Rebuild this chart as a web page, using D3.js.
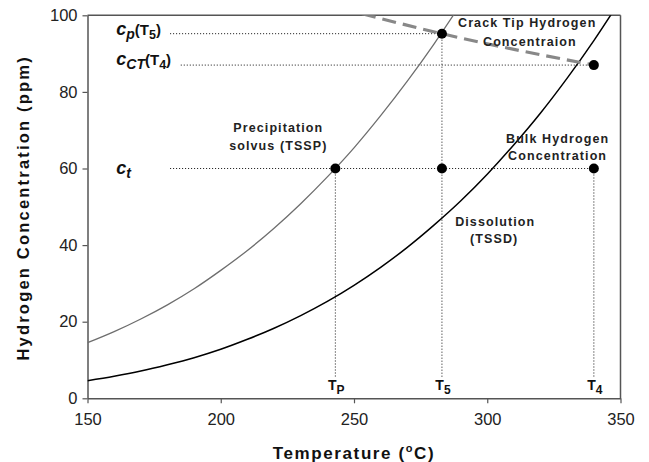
<!DOCTYPE html>
<html>
<head>
<meta charset="utf-8">
<script src="https://cdn.jsdelivr.net/npm/d3@7"></script>
<style>
  body { margin: 0; background: #fff; }
  svg { display: block; font-family: "Liberation Sans", Arial, sans-serif; }
</style>
</head>
<body>
<svg id="chart" width="649" height="462"></svg>
<script>
// solvus curves (ppm vs degC)
const tsspTemp = [150, 160, 170, 180, 190, 200, 210, 220, 230, 240, 250, 260, 270, 280, 290];
const tsspConc = [14.5, 17.4, 20.7, 24.4, 28.6, 33.4, 38.6, 44.4, 50.8, 57.8, 65.4, 73.8, 82.8, 92.5, 102.9];

const tssdTemp = [150, 160, 170, 180, 190, 200, 210, 220, 230, 240, 250, 260, 270, 280, 290, 300, 310, 320, 330, 340, 350];
const tssdConc = [4.6, 5.75, 7.1, 8.75, 10.6, 12.8, 15.4, 18.3, 21.6, 25.3, 29.5, 34.2, 39.4, 45.2, 51.5, 58.5, 66.2, 74.5, 83.6, 93.4, 104];

// crack tip concentration (dashed)
const crackTemp = [253, 283, 340];
const crackConc = [100.4, 95.2, 87];

// marked points
const pointTemp = [243, 283, 340, 283, 340];
const pointConc = [60, 60, 60, 95.2, 87];

// guide lines: [t1, c1, t2, c2]
const guides = [
  [181, 95.2, 283, 95.2],
  [185, 87, 340, 87],
  [181, 60, 340, 60],
  [243, 60, 243, 5.5],
  [283, 95.2, 283, 5.5],
  [340, 60, 340, 5.5]
];

const xTicks = [150, 200, 250, 300, 350];
const yTicks = [0, 20, 40, 60, 80, 100];

const svg = d3.select('#chart');
const W = 649, H = 462;
const margin = { top: 15.3, right: 28.5, bottom: 63.7, left: 87.5 };

const x = d3.scaleLinear().domain([150, 350]).range([margin.left, W - margin.right]);
const y = d3.scaleLinear().domain([0, 100]).range([H - margin.bottom, margin.top]);

svg.append('defs').append('clipPath').attr('id', 'plot')
  .append('rect')
  .attr('x', x(150)).attr('y', y(100))
  .attr('width', x(350) - x(150)).attr('height', y(0) - y(100));

// axes
const xAxis = svg.append('g')
  .attr('transform', `translate(0,${y(0)})`)
  .call(d3.axisBottom(x).tickValues(xTicks).tickSize(5).tickSizeOuter(0).tickPadding(10));
const yAxis = svg.append('g')
  .attr('transform', `translate(${x(150)},0)`)
  .call(d3.axisLeft(y).tickValues(yTicks).tickSize(5).tickSizeOuter(0).tickPadding(5));

[xAxis, yAxis].forEach(a => {
  a.select('.domain').attr('stroke', '#555').attr('stroke-width', 1.5);
  a.selectAll('.tick line').attr('stroke', '#555').attr('stroke-width', 1.2);
  a.selectAll('.tick text')
    .attr('fill', '#222')
    .style('font-size', '16.5px')
    .style('font-family', '"Liberation Sans", Arial, sans-serif');
});

// frame top / right
svg.append('line')
  .attr('x1', x(150)).attr('x2', x(350)).attr('y1', y(100)).attr('y2', y(100))
  .attr('stroke', '#555').attr('stroke-width', 1.5);
svg.append('line')
  .attr('x1', x(350)).attr('x2', x(350)).attr('y1', y(100)).attr('y2', y(0))
  .attr('stroke', '#555').attr('stroke-width', 1.5);

// axis titles
const xt = svg.append('text')
  .attr('x', x(250)).attr('y', 459)
  .attr('text-anchor', 'middle')
  .style('font-size', '17px').style('font-weight', 'bold')
  .style('letter-spacing', '1.6px').attr('fill', '#111');
xt.append('tspan').text('Temperature (');
xt.append('tspan').text('o').style('font-size', '11px').attr('dy', -7);
xt.append('tspan').text('C)').attr('dy', 7);

svg.append('text')
  .attr('transform', `translate(28.5,${y(50) + 1}) rotate(-90)`)
  .attr('text-anchor', 'middle')
  .style('font-size', '16.5px').style('font-weight', 'bold')
  .style('letter-spacing', '2.2px').attr('fill', '#111')
  .text('Hydrogen Concentration (ppm)');

// guide lines
svg.append('g').selectAll('line')
  .data(guides)
  .enter()
  .append('line')
  .attr('x1', d => x(d[0])).attr('y1', d => y(d[1]))
  .attr('x2', d => x(d[2])).attr('y2', d => y(d[3]))
  .attr('stroke', '#111').attr('stroke-width', 1)
  .attr('stroke-dasharray', '1,2');

// curves
const line = d3.line()
  .x(d => x(d[0]))
  .y(d => y(d[1]))
  .curve(d3.curveMonotoneX);

const curves = svg.append('g').attr('clip-path', 'url(#plot)');

curves.append('path')
  .datum(d3.zip(tsspTemp, tsspConc))
  .attr('d', line)
  .attr('fill', 'none')
  .attr('stroke', '#6e6e6e')
  .attr('stroke-width', 1.3);

curves.append('path')
  .datum(d3.zip(tssdTemp, tssdConc))
  .attr('d', line)
  .attr('fill', 'none')
  .attr('stroke', '#000')
  .attr('stroke-width', 1.5);

curves.append('path')
  .datum(d3.zip(crackTemp, crackConc))
  .attr('d', line)
  .attr('fill', 'none')
  .attr('stroke', '#888')
  .attr('stroke-width', 3.2)
  .attr('stroke-dasharray', '14,7');

svg.append('g').selectAll('circle')
  .data(d3.zip(pointTemp, pointConc))
  .enter()
  .append('circle')
  .attr('cx', d => x(d[0]))
  .attr('cy', d => y(d[1]))
  .attr('r', 5)
  .attr('fill', '#000');

// curve annotations
const notes = [
  { t: 221.6, c: 69.6, text: 'Precipitation' },
  { t: 221.6, c: 64.8, text: 'solvus (TSSP)' },
  { t: 315, c: 96.9, text: 'Crack Tip Hydrogen' },
  { t: 316, c: 92.1, text: 'Concentraion' },
  { t: 326.4, c: 66.6, text: 'Bulk Hydrogen' },
  { t: 326.4, c: 62.2, text: 'Concentration' },
  { t: 303, c: 45.0, text: 'Dissolution' },
  { t: 302.6, c: 40.5, text: '(TSSD)' }
];
svg.append('g').selectAll('text')
  .data(notes)
  .enter()
  .append('text')
  .attr('x', d => x(d.t))
  .attr('y', d => y(d.c))
  .attr('text-anchor', 'middle')
  .style('font-size', '12.5px').style('font-weight', 'bold')
  .style('letter-spacing', '1.1px')
  .attr('fill', '#222')
  .text(d => d.text);

// concentration labels on the left
function concLabel(cy, sub, tsub, shift) {
  const t = svg.append('text')
    .attr('x', x(160.8)).attr('y', y(cy) + shift)
    .style('font-weight', 'bold').attr('fill', '#111');
  t.append('tspan').text('c').style('font-style', 'italic').style('font-size', '18px');
  t.append('tspan').text(sub).style('font-style', 'italic').style('font-size', '14px').attr('dy', 4);
  if (tsub) {
    t.append('tspan').text('(T').style('font-size', '15px').attr('dy', -4);
    t.append('tspan').text(tsub).style('font-size', '12.5px').attr('dy', 4);
    t.append('tspan').text(')').style('font-size', '15px').attr('dy', -4);
  }
}
concLabel(95.2, 'p', '5', 1.5);
concLabel(87, 'CT', '4', 0);
concLabel(60, 't', null, 5);

// temperature labels at the bottom
const tLabels = [[243, 'P'], [283, '5'], [340, '4']];
tLabels.forEach(d => {
  const t = svg.append('text')
    .attr('x', x(d[0]) + 1).attr('y', 390)
    .attr('text-anchor', 'middle')
    .style('font-weight', 'bold').attr('fill', '#111');
  t.append('tspan').text('T').style('font-size', '14px');
  t.append('tspan').text(d[1]).style('font-size', '12px').attr('dy', 4);
});
</script>
</body>
</html>
